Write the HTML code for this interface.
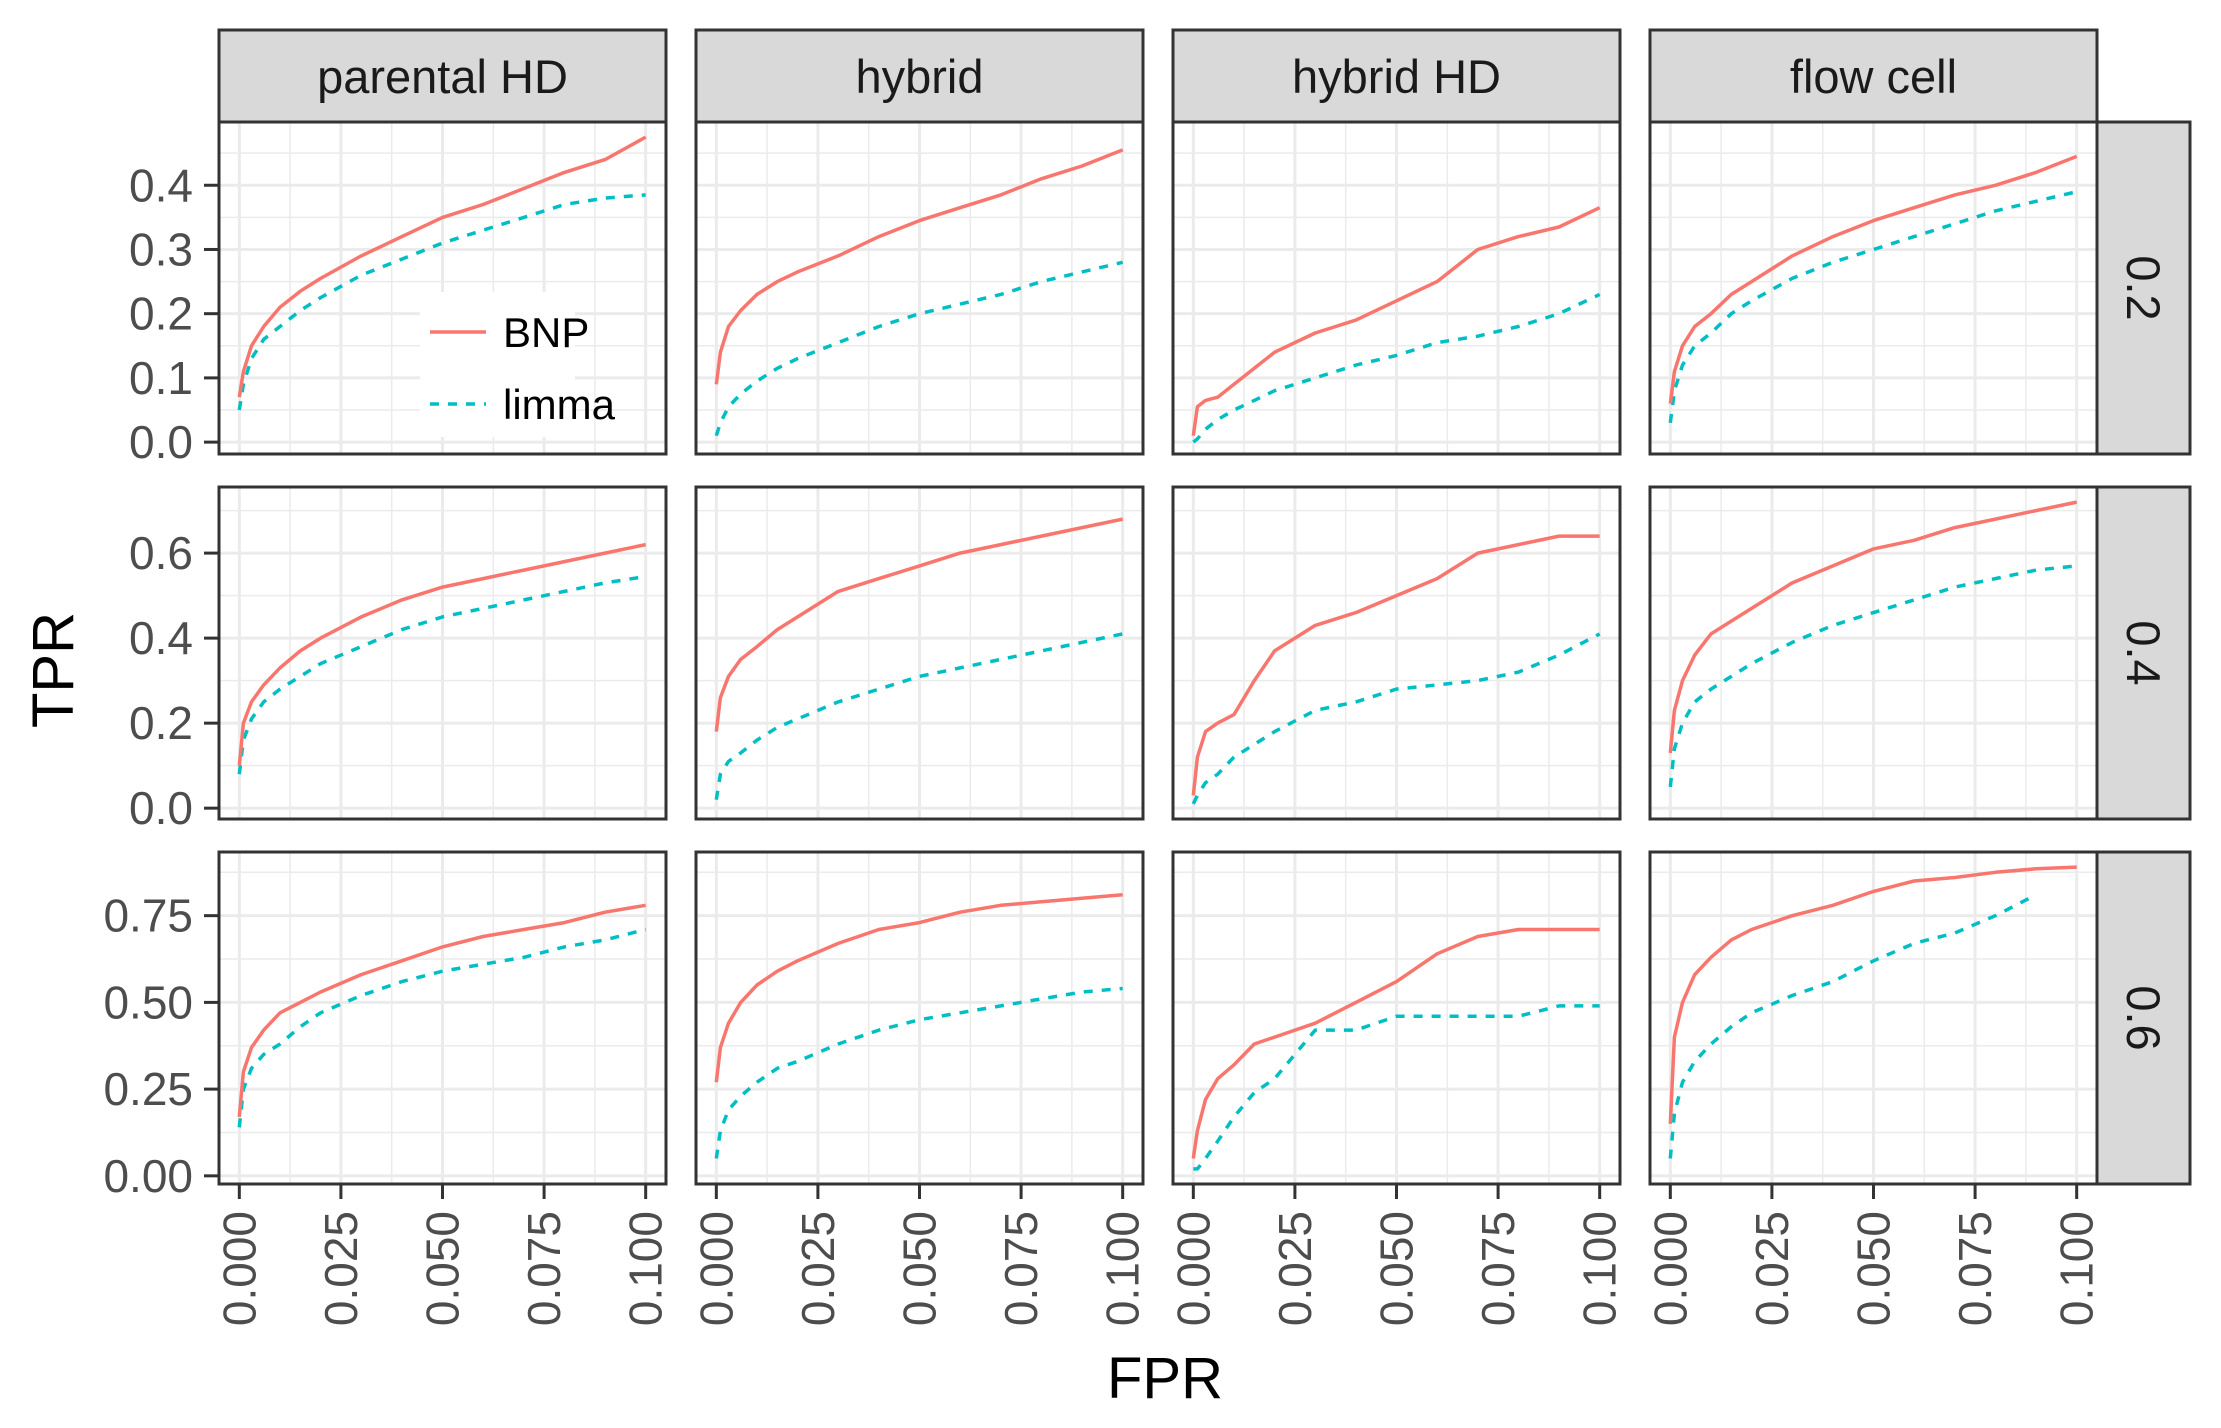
<!DOCTYPE html>
<html><head><meta charset="utf-8"><style>
html,body{margin:0;padding:0;background:#fff;}
svg{display:block;font-family:"Liberation Sans",Arial,sans-serif;}
</style></head><body>
<svg id="chart" width="2221" height="1428" viewBox="0 0 2221 1428" xmlns="http://www.w3.org/2000/svg"></svg>
<script>
const columns = ["parental HD","hybrid","hybrid HD","flow cell"];
const rows = ["0.2","0.4","0.6"];
const fprValues = [0,0.001,0.003,0.006,0.01,0.015,0.02,0.03,0.04,0.05,0.06,0.07,0.08,0.09,0.1];
const xTicks = [0,0.025,0.05,0.075,0.1];
const xTickLabels = ["0.000","0.025","0.050","0.075","0.100"];
const yTicksRow1 = [0,0.1,0.2,0.3,0.4];
const yTickLabelsRow1 = ["0.0","0.1","0.2","0.3","0.4"];
const yTicksRow2 = [0,0.2,0.4,0.6];
const yTickLabelsRow2 = ["0.0","0.2","0.4","0.6"];
const yTicksRow3 = [0,0.25,0.5,0.75];
const yTickLabelsRow3 = ["0.00","0.25","0.50","0.75"];
const yDomains = [[-0.0185,0.4985],[-0.0255,0.7555],[-0.0235,0.9335]];
const bnpRow1 = [
 [0.07,0.11,0.15,0.18,0.21,0.235,0.255,0.29,0.32,0.35,0.37,0.395,0.42,0.44,0.475],
 [0.09,0.14,0.18,0.205,0.23,0.25,0.265,0.29,0.32,0.345,0.365,0.385,0.41,0.43,0.455],
 [0.01,0.055,0.065,0.07,0.09,0.115,0.14,0.17,0.19,0.22,0.25,0.3,0.32,0.335,0.365],
 [0.06,0.11,0.15,0.18,0.2,0.23,0.25,0.29,0.32,0.345,0.365,0.385,0.4,0.42,0.445]];
const limmaRow1 = [
 [0.05,0.09,0.13,0.16,0.18,0.205,0.225,0.26,0.285,0.31,0.33,0.35,0.37,0.38,0.385],
 [0.01,0.03,0.055,0.075,0.095,0.115,0.13,0.155,0.18,0.2,0.215,0.23,0.25,0.265,0.28],
 [0.0,0.005,0.02,0.035,0.05,0.065,0.08,0.1,0.12,0.135,0.155,0.165,0.18,0.2,0.23],
 [0.03,0.08,0.12,0.15,0.17,0.2,0.22,0.255,0.28,0.3,0.32,0.34,0.36,0.375,0.39]];
const bnpRow2 = [
 [0.1,0.2,0.25,0.29,0.33,0.37,0.4,0.45,0.49,0.52,0.54,0.56,0.58,0.6,0.62],
 [0.18,0.26,0.31,0.35,0.38,0.42,0.45,0.51,0.54,0.57,0.6,0.62,0.64,0.66,0.68],
 [0.03,0.12,0.18,0.2,0.22,0.3,0.37,0.43,0.46,0.5,0.54,0.6,0.62,0.64,0.64],
 [0.13,0.23,0.3,0.36,0.41,0.44,0.47,0.53,0.57,0.61,0.63,0.66,0.68,0.7,0.72]];
const limmaRow2 = [
 [0.08,0.16,0.21,0.25,0.28,0.31,0.34,0.38,0.42,0.45,0.47,0.49,0.51,0.53,0.545],
 [0.02,0.08,0.11,0.13,0.16,0.19,0.21,0.25,0.28,0.31,0.33,0.35,0.37,0.39,0.41],
 [0.01,0.03,0.06,0.08,0.12,0.15,0.18,0.23,0.25,0.28,0.29,0.3,0.32,0.36,0.41],
 [0.05,0.14,0.2,0.25,0.28,0.31,0.34,0.39,0.43,0.46,0.49,0.52,0.54,0.56,0.57]];
const bnpRow3 = [
 [0.17,0.3,0.37,0.42,0.47,0.5,0.53,0.58,0.62,0.66,0.69,0.71,0.73,0.76,0.78],
 [0.27,0.37,0.44,0.5,0.55,0.59,0.62,0.67,0.71,0.73,0.76,0.78,0.79,0.8,0.81],
 [0.05,0.13,0.22,0.28,0.32,0.38,0.4,0.44,0.5,0.56,0.64,0.69,0.71,0.71,0.71],
 [0.15,0.4,0.5,0.58,0.63,0.68,0.71,0.75,0.78,0.82,0.85,0.86,0.875,0.885,0.89]];
const limmaRow3 = [
 [0.14,0.25,0.31,0.35,0.38,0.43,0.47,0.52,0.56,0.59,0.61,0.63,0.66,0.68,0.71],
 [0.05,0.13,0.19,0.23,0.27,0.31,0.33,0.38,0.42,0.45,0.47,0.49,0.51,0.53,0.54],
 [0.02,0.02,0.05,0.1,0.17,0.24,0.28,0.42,0.42,0.46,0.46,0.46,0.46,0.49,0.49],
 [0.05,0.18,0.27,0.33,0.38,0.43,0.47,0.52,0.56,0.62,0.67,0.7,0.75,0.81,null]];

const NS="http://www.w3.org/2000/svg";
const svg=document.getElementById('chart');
function mk(tag,attrs,parent){const e=document.createElementNS(NS,tag);for(const k in attrs)e.setAttribute(k,attrs[k]);(parent||svg).appendChild(e);return e;}
const panelLefts=[219,696,1173,1650], panelW=447;
const panelTops=[122,487,852], panelH=332;
const stripTop=30, stripRight=2190;
const yTicksAll=[yTicksRow1,yTicksRow2,yTicksRow3];
const yLabelsAll=[yTickLabelsRow1,yTickLabelsRow2,yTickLabelsRow3];
const bnpAll=[bnpRow1,bnpRow2,bnpRow3], limmaAll=[limmaRow1,limmaRow2,limmaRow3];
function xScale(c,v){return panelLefts[c]+(v+0.005)/0.11*panelW;}
function yScale(r,v){const d=yDomains[r];return panelTops[r]+panelH-(v-d[0])/(d[1]-d[0])*panelH;}

columns.forEach((name,c)=>{
  const g=mk('g',{});
  
  
  mk('rect',{x:panelLefts[c],y:stripTop,width:panelW,height:panelTops[0]-stripTop,fill:'#d9d9d9',stroke:'#333',"stroke-width":3},g);
  const t=mk('text',{x:panelLefts[c]+panelW/2,y:(stripTop+panelTops[0])/2+17,"text-anchor":"middle","font-size":47,fill:'#1a1a1a'},g);
  t.textContent=name;
});
rows.forEach((name,r)=>{
  const g=mk('g',{});
  
  
  const x0=panelLefts[3]+panelW;
  mk('rect',{x:x0,y:panelTops[r],width:stripRight-x0,height:panelH,fill:'#d9d9d9',stroke:'#333',"stroke-width":3},g);
  const cx=(x0+stripRight)/2, cy=panelTops[r]+panelH/2;
  const t=mk('text',{x:cx,y:cy,"text-anchor":"middle","dominant-baseline":"central","font-size":47,fill:'#1a1a1a',transform:`rotate(90 ${cx} ${cy})`},g);
  t.textContent=name;
});

for(let r=0;r<3;r++){
  for(let c=0;c<4;c++){
    const g=mk('g',{});
    
    
    const L=panelLefts[c],T=panelTops[r];
    mk('rect',{x:L,y:T,width:panelW,height:panelH,fill:'#fff'},g);
    const d=yDomains[r];
    for(let i=0;i<xTicks.length-1;i++){const v=(xTicks[i]+xTicks[i+1])/2;const x=xScale(c,v);mk('line',{x1:x,x2:x,y1:T,y2:T+panelH,stroke:'#ebebeb',"stroke-width":1.5},g);}
    const yt=yTicksAll[r];const step=yt[1]-yt[0];
    for(let v=yt[0]-step/2;v<d[1];v+=step){if(v<d[0])continue;const y=yScale(r,v);mk('line',{x1:L,x2:L+panelW,y1:y,y2:y,stroke:'#ebebeb',"stroke-width":1.5},g);}
    xTicks.forEach(v=>{const x=xScale(c,v);mk('line',{x1:x,x2:x,y1:T,y2:T+panelH,stroke:'#ebebeb',"stroke-width":3},g);});
    yt.forEach(v=>{const y=yScale(r,v);mk('line',{x1:L,x2:L+panelW,y1:y,y2:y,stroke:'#ebebeb',"stroke-width":3},g);});
    const series=[[limmaAll[r][c],'#00BFC4','9 9','limma'],[bnpAll[r][c],'#F8766D','','bnp']];
    series.forEach(s=>{
      let pts=[];
      s[0].forEach((v,i)=>{if(v!==null)pts.push(xScale(c,fprValues[i]).toFixed(1)+','+yScale(r,v).toFixed(1));});
      const p=mk('polyline',{points:pts.join(' '),fill:'none',stroke:s[1],"stroke-width":3.5,"stroke-dasharray":s[2]||'none',"stroke-linejoin":"round"},g);
      
      
    });
    mk('rect',{x:L,y:T,width:panelW,height:panelH,fill:'none',stroke:'#333',"stroke-width":3},g);
    if(c===0){
      yt.forEach((v,i)=>{const y=yScale(r,v);mk('line',{x1:L-15,x2:L,y1:y,y2:y,stroke:'#333',"stroke-width":3},g);
        const t=mk('text',{x:L-26,y:y+16,"text-anchor":"end","font-size":46,fill:'#4d4d4d'},g);
        
        
        t.textContent=yLabelsAll[r][i];});
    }
    if(r===2){
      xTicks.forEach((v,i)=>{const x=xScale(c,v);const B=T+panelH;mk('line',{x1:x,x2:x,y1:B,y2:B+15,stroke:'#333',"stroke-width":3},g);
        const ty=B+27;
        const t=mk('text',{x:x,y:ty,"text-anchor":"end","dominant-baseline":"central","font-size":46,fill:'#4d4d4d',transform:`rotate(-90 ${x} ${ty})`},g);
        
        
        t.textContent=xTickLabels[i];});
    }
  }
}
const lg=mk('g',{});


mk('rect',{x:420,y:292,width:155,height:145,fill:'#fff'},lg);
mk('line',{x1:430,x2:486,y1:332,y2:332,stroke:'#F8766D',"stroke-width":3.5},lg);
mk('line',{x1:430,x2:486,y1:404,y2:404,stroke:'#00BFC4',"stroke-width":3.5,"stroke-dasharray":"9 9"},lg);
const l1=mk('text',{x:503,y:347,"font-size":42,fill:'#000'},lg);l1.textContent='BNP';
const l2=mk('text',{x:503,y:419,"font-size":42,fill:'#000'},lg);l2.textContent='limma';
const tx=mk('text',{x:1165,y:1398,"text-anchor":"middle","font-size":58,fill:'#000'});


tx.textContent='FPR';
const ty=mk('text',{x:73,y:670,"text-anchor":"middle","font-size":58,fill:'#000',transform:'rotate(-90 73 670)'});


ty.textContent='TPR';
</script>
</body></html>
